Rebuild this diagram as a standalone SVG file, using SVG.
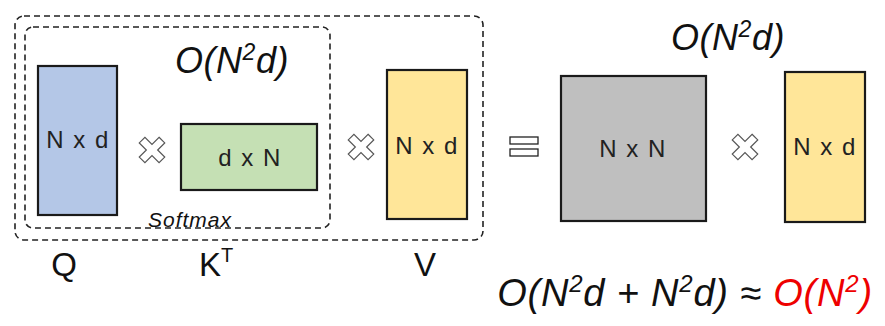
<svg xmlns="http://www.w3.org/2000/svg" width="885" height="326" viewBox="0 0 885 326">
<style>
.dash{fill:none;stroke:#222;stroke-width:1.6;stroke-dasharray:6,4}
.mat{stroke:#1a1a1a;stroke-width:2.2}
.lbl{font-family:"Liberation Sans",Arial,sans-serif;font-size:24px;letter-spacing:1.5px;fill:#222;text-anchor:middle}
.big{font-family:"Liberation Sans",Arial,sans-serif;font-style:italic;fill:#111}
.name{font-family:"Liberation Sans",Arial,sans-serif;font-size:33px;fill:#111;text-anchor:middle}
.x{fill:#fff;stroke:#555;stroke-width:1.2}
</style>
<defs>
<path id="mul" d="M-4,-14 L4,-14 L4,-4 L14,-4 L14,4 L4,4 L4,14 L-4,14 L-4,4 L-14,4 L-14,-4 L-4,-4 Z" transform="rotate(45)"/>
</defs>
<g id="outer-box"><rect class="dash" x="15" y="16" width="468" height="224" rx="9"/></g>
<g id="softmax-box"><rect class="dash" x="25" y="27" width="305" height="201" rx="8"/>
<text class="big" x="190" y="227" font-size="21" letter-spacing="1" text-anchor="middle">Softmax</text></g>
<g id="Q"><rect class="mat" x="38" y="66" width="79" height="149" fill="#b4c7e7"/>
<text class="lbl" x="78" y="148">N x d</text>
<text class="name" x="64" y="276">Q</text></g>
<g id="K"><rect class="mat" x="181" y="124" width="136" height="66" fill="#c5e0b4"/>
<text class="lbl" x="250" y="166">d x N</text>
<text class="name" x="216" y="276">K<tspan font-size="20" dy="-14">T</tspan></text></g>
<g id="V"><rect class="mat" x="387" y="70" width="80" height="149" fill="#ffe699"/>
<text class="lbl" x="427" y="154">N x d</text>
<text class="name" x="425" y="276">V</text></g>
<g id="NN"><rect class="mat" x="561" y="76" width="145" height="145" fill="#bfbfbf"/>
<text class="lbl" x="633" y="157">N x N</text></g>
<g id="V2"><rect class="mat" x="785" y="72" width="80" height="150" fill="#ffe699"/>
<text class="lbl" x="825" y="155">N x d</text></g>
<g id="ops">
<use href="#mul" class="x" x="152" y="150"/>
<use href="#mul" class="x" x="361" y="147"/>
<use href="#mul" class="x" x="745" y="147"/>
<rect x="510" y="137" width="28" height="7" fill="#fff" stroke="#222" stroke-width="1.3"/>
<rect x="510" y="149" width="28" height="7" fill="#fff" stroke="#222" stroke-width="1.3"/>
</g>
<g id="complexity">
<text class="big" x="232" y="73" font-size="36" letter-spacing="0.5" text-anchor="middle">O(N<tspan font-size="23" dy="-13">2</tspan><tspan dy="13">d)</tspan></text>
<text class="big" x="728" y="50" font-size="36" letter-spacing="0.5" text-anchor="middle">O(N<tspan font-size="23" dy="-13">2</tspan><tspan dy="13">d)</tspan></text>
<text class="big" x="685" y="306" font-size="38" letter-spacing="0.8" text-anchor="middle">O(N<tspan font-size="24" dy="-14">2</tspan><tspan dy="14">d + N</tspan><tspan font-size="24" dy="-14">2</tspan><tspan dy="14">d) ≈ </tspan><tspan fill="#e00">O(N</tspan><tspan fill="#e00" font-size="24" dy="-14">2</tspan><tspan fill="#e00" dy="14">)</tspan></text>
</g>
</svg>
